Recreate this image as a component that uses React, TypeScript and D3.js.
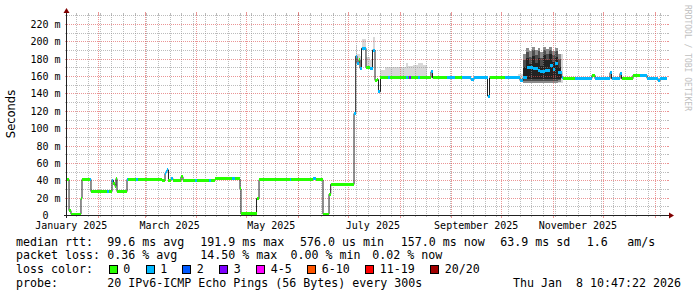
import React from "react";
import * as d3 from "d3";

// ---------- data ----------
const startTime = "2025-01-13T10:47";
const endTime = "2026-01-08T10:47";

const yTickValues = [0, 20, 40, 60, 80, 100, 120, 140, 160, 180, 200, 220];
const yTickLabels = ["0  ", "20 m", "40 m", "60 m", "80 m", "100 m", "120 m", "140 m", "160 m", "180 m", "200 m", "220 m"];

const monthLabels = ["January 2025", "March 2025", "May 2025", "July 2025", "September 2025", "November 2025"];
const monthLabelTimes = ["2025-01-16T00:00", "2025-03-16T00:00", "2025-05-16T00:00", "2025-07-16T00:00", "2025-09-16T00:00", "2025-11-16T00:00"];

const lossColors = ["#26ff00", "#00b8ff", "#0059ff", "#7e00ff", "#ff00ff", "#ff5500", "#ff0000", "#a10000"];
const lossLabels = ["0", "1", "2", "3", "4-5", "6-10", "11-19", "20/20"];

// median rtt (ms) as step points, with loss colour index
const medianTimes = [
  "2025-01-13T10:47", "2025-01-14T16:00", "2025-01-15T20:00", "2025-01-21T20:00", "2025-01-22T11:00",
  "2025-01-26T23:00", "2025-01-27T20:00", "2025-02-06T11:00", "2025-02-07T16:00", "2025-02-09T11:00",
  "2025-02-10T08:00", "2025-02-11T06:00", "2025-02-11T20:00", "2025-02-12T11:00", "2025-02-18T11:00",
  "2025-02-19T08:00", "2025-02-23T20:00", "2025-02-24T18:00", "2025-03-11T11:00", "2025-03-13T06:00",
  "2025-03-13T20:00", "2025-03-14T11:00", "2025-03-15T08:00", "2025-03-16T20:00", "2025-03-18T01:00",
  "2025-03-22T20:00", "2025-03-24T01:00", "2025-03-31T06:00", "2025-04-01T11:00", "2025-04-08T16:00",
  "2025-04-09T20:00", "2025-04-12T06:00", "2025-04-22T11:00", "2025-04-24T06:00", "2025-04-27T06:00",
  "2025-04-27T20:00", "2025-05-07T04:00", "2025-05-08T16:00", "2025-05-27T06:00", "2025-05-27T20:00",
  "2025-06-10T01:00", "2025-06-11T20:00", "2025-06-16T01:00", "2025-06-19T16:00", "2025-06-20T16:00",
  "2025-07-04T16:00", "2025-07-05T16:00", "2025-07-06T11:00", "2025-07-07T16:00", "2025-07-08T06:00",
  "2025-07-09T04:00", "2025-07-11T20:00", "2025-07-14T06:00", "2025-07-15T18:00", "2025-07-17T06:00",
  "2025-07-18T11:00", "2025-07-19T08:00", "2025-07-20T13:00", "2025-07-25T01:00", "2025-07-25T23:00",
  "2025-08-04T20:00", "2025-08-06T01:00", "2025-08-06T16:00", "2025-08-07T20:00", "2025-08-12T01:00",
  "2025-08-12T23:00", "2025-08-19T20:00", "2025-08-20T18:00", "2025-08-29T11:00", "2025-09-03T06:00",
  "2025-09-07T11:00", "2025-09-12T20:00", "2025-09-14T16:00", "2025-09-22T18:00", "2025-09-23T23:00",
  "2025-10-03T06:00", "2025-10-12T06:00", "2025-10-14T01:00", "2025-10-16T06:00", "2025-10-20T01:00",
  "2025-10-23T01:00", "2025-10-24T06:00", "2025-10-27T06:00", "2025-10-28T11:00", "2025-10-30T06:00",
  "2025-11-01T01:00", "2025-11-02T06:00", "2025-11-04T01:00", "2025-11-06T06:00", "2025-11-07T01:00",
  "2025-11-14T06:00", "2025-11-24T11:00", "2025-11-26T06:00", "2025-12-05T06:00", "2025-12-06T04:00",
  "2025-12-11T06:00", "2025-12-12T04:00", "2025-12-19T01:00", "2025-12-23T06:00", "2025-12-27T11:00",
  "2026-01-03T01:00", "2026-01-04T06:00",
];
const medianValues = [
  41, 5, 1, 19, 41,
  41, 27, 27, 27, 40,
  36, 33, 42, 27, 41,
  41, 41, 41, 39.5, 48,
  50, 52, 40, 42, 40,
  44, 40, 40, 40, 40,
  40, 41.5, 41.5, 41.5, 30,
  1.5, 19, 40.5, 40.5, 40.5,
  41.5, 40.5, 1, 24, 35.3,
  117, 183, 175, 179, 169,
  192, 170, 169, 190, 155,
  156, 142, 158, 158, 158,
  158, 158, 158, 158, 158,
  158, 165, 158, 158, 158,
  158, 156, 158, 137, 158,
  158, 155, 158, 170, 169,
  167, 165, 166, 167, 172,
  168, 174.7, 164, 158, 157.5,
  157.5, 161, 157, 164, 157,
  163, 157, 161, 161, 157.5,
  154.5, 157.5,
];
const medianLoss = [
  0, 0, 0, 0, 0,
  1, 0, 1, 0, 1,
  0, 0, 0, 0, 1,
  0, 1, 0, 0, 1,
  1, 1, 0, 1, 0,
  0, 0, 1, 0, 1,
  0, 0, 1, 0, 0,
  0, 0, 0, 1, 0,
  1, 0, 0, 0, 0,
  1, 1, 1, 0, 1,
  1, 0, 1, 1, 0,
  0, 1, 0, 1, 0,
  1, 0, 3, 0, 1,
  0, 1, 0, 1, 0,
  1, 1, 1, 1, 0,
  1, 1, 1, 1, 1,
  1, 1, 1, 1, 1,
  1, 1, 1, 1, 0,
  1, 0, 1, 1, 1,
  1, 0, 0, 1, 1,
  1, 1,
];

// light smoke (ping spread), ms; null = no smoke
const smokeTimes = [
  "2025-07-05T16:00", "2025-07-06T11:00", "2025-07-07T16:00", "2025-07-08T06:00", "2025-07-09T04:00",
  "2025-07-11T20:00", "2025-07-14T06:00", "2025-07-15T18:00", "2025-07-17T06:00", "2025-07-19T08:00",
  "2025-07-20T13:00", "2025-07-23T06:00", "2025-07-29T06:00", "2025-08-04T20:00", "2025-08-06T01:00",
  "2025-08-09T01:00", "2025-08-12T01:00", "2025-08-15T01:00", "2025-08-17T11:00", "2025-08-19T06:00",
  "2025-09-29T01:00", "2025-10-02T16:00", "2025-10-11T01:00", "2025-10-14T01:00", "2025-11-07T01:00",
  "2025-11-23T06:00",
];
const smokeLow = [
  183, 175, 179, 169, 192,
  168, 169, 190, 155, null,
  158, 158, 158, 158, 158,
  158, 158, 158, 158, null,
  157, null, 157, 152, 157,
  null,
];
const smokeHigh = [
  196, 186, 186, 183, 203,
  182, 178, 205, 168, null,
  167, 170, 171, 175, 172,
  173, 175, 173, 179, null,
  166, null, 163, 186, 164,
  null,
];

// dense smoke in late October: outer, mid and dark greys (ms)
const denseTimes = [
  "2025-10-14T01:00", "2025-10-15T19:00", "2025-10-17T13:00", "2025-10-19T07:00", "2025-10-21T01:00",
  "2025-10-22T19:00", "2025-10-24T13:00", "2025-10-26T07:00", "2025-10-28T01:00", "2025-10-29T19:00",
  "2025-10-31T13:00", "2025-11-02T07:00", "2025-11-04T01:00", "2025-11-05T19:00", "2025-11-07T01:00",
];
const outerLow = [152, 152, 152, 152, 152, 152, 152, 152, 152, 152, 152, 152, 153, 155, null];
const outerHigh = [186, 192, 189, 193, 190, 192, 188, 193, 191, 193, 189, 192, 186, 170, null];
const midLow = [154, 154, 154, 154, 154, 154, 154, 154, 154, 154, 154, 154, 155, 156, null];
const midHigh = [178, 188, 182, 190, 184, 189, 181, 190, 186, 190, 184, 189, 180, 165, null];
const darkLow = [157, 157, 157, 157, 157, 157, 157, 157, 157, 157, 157, 157, 157, 158, null];
const darkHigh = [170, 181, 174, 183, 175, 181, 172, 184, 178, 185, 176, 182, 170, 162, null];

const legendRows = [
  ["median rtt:", "99.6 ms avg", "191.9 ms max", "576.0 us min", "157.0 ms now", "63.9 ms sd", "1.6", "am/s"],
  ["packet loss:", "0.36 % avg", "14.50 % max", "0.00 % min", "0.02 % now"],
];
const lossTitle = "loss color:";
const probeLabel = "probe:";
const probeText = "20 IPv6-ICMP Echo Pings (56 Bytes) every 300s";
const stampText = "Thu Jan  8 10:47:22 2026";
const yTitle = "Seconds";
const watermark = "RRDTOOL / TOBI OETIKER";

// ---------- layout ----------
const W = 697, H = 297;
const PX0 = 67, PX1 = 667, PY0 = 215, PY1 = 15;
const legendX = [
  [16, 107.3, 200.3, 300, 400.7, 500.3, 586.7, 627.3],
  [16, 107.3, 200.3, 290.5, 372.3],
];
const legendY = [245.5, 259.4, 273.3, 287.2];
const boxX = [109, 146, 182.5, 219.5, 256.5, 307.5, 365.5, 430.5];
const MONO = "'DejaVu Sans Mono', monospace";

const parse = d3.timeParse("%Y-%m-%dT%H:%M");

export default function App() {
  const t0 = parse(startTime)!;
  const t1 = parse(endTime)!;
  const x = d3.scaleTime().domain([t0, t1]).range([PX0, PX1]);
  const y = d3.scaleLinear().domain([0, 230.4]).range([PY0, PY1]);

  const minorV = d3.timeSunday.range(t0, t1);
  const majorV = d3.timeMonth.range(d3.timeMonth.ceil(t0), t1);
  const minorH = d3.range(10, 231, 10).filter((v) => v % 20 !== 0);
  const majorH = d3.range(20, 221, 20);

  const pts = medianTimes.map((s, i) => ({ t: parse(s)!, v: medianValues[i], c: medianLoss[i] }));
  const stepPts = [...pts, { t: t1, v: pts[pts.length - 1].v, c: 0 }];
  const line = d3
    .line<{ t: Date; v: number }>()
    .x((d) => x(d.t))
    .y((d) => y(d.v))
    .curve(d3.curveStepAfter);

  const mkArea = (times: string[], lo: (number | null)[], hi: (number | null)[]) => {
    const data = times.map((s, i) => ({ t: parse(s)!, lo: lo[i], hi: hi[i] }));
    const area = d3
      .area<{ t: Date; lo: number | null; hi: number | null }>()
      .defined((d) => d.lo !== null)
      .x((d) => x(d.t))
      .y0((d) => y(d.lo as number))
      .y1((d) => y(d.hi as number))
      .curve(d3.curveStepAfter);
    return area(data) || "";
  };

  const rx = (v: number) => Math.round(v) + 0.5;
  const gridMinor = "rgba(143,143,143,0.6)";
  const gridMajor = "rgba(222,79,79,0.6)";

  return (
    <svg
      width={W}
      height={H}
      style={{ position: "fixed", left: 0, top: 0, display: "block" }}
      xmlns="http://www.w3.org/2000/svg"
    >
      <rect x={0} y={0} width={W} height={H} fill="#ffffff" />

      {/* smoke */}
      <path d={mkArea(smokeTimes, smokeLow, smokeHigh)} fill="#d8d8d8" shapeRendering="crispEdges" />
      <path d={mkArea(denseTimes, outerLow, outerHigh)} fill="#8c8c8c" shapeRendering="crispEdges" />
      <path d={mkArea(denseTimes, midLow, midHigh)} fill="#4e4e4e" shapeRendering="crispEdges" />
      <path d={mkArea(denseTimes, darkLow, darkHigh)} fill="#222222" shapeRendering="crispEdges" />

      {/* grid */}
      <g shapeRendering="crispEdges" strokeWidth={1}>
        {minorH.map((v) => (
          <g key={"mh" + v}>
            <line x1={PX0} x2={PX1} y1={rx(y(v))} y2={rx(y(v))} stroke={gridMinor} strokeDasharray="1,1" />
            <line x1={PX0 - 2} x2={PX0} y1={rx(y(v))} y2={rx(y(v))} stroke={gridMinor} />
            <line x1={PX1} x2={PX1 + 2} y1={rx(y(v))} y2={rx(y(v))} stroke={gridMinor} />
          </g>
        ))}
        {minorV.map((d, i) => (
          <g key={"mv" + i}>
            <line x1={rx(x(d))} x2={rx(x(d))} y1={PY1} y2={PY0} stroke={gridMinor} strokeDasharray="1,1" />
            <line x1={rx(x(d))} x2={rx(x(d))} y1={PY0} y2={PY0 + 2} stroke={gridMinor} />
            <line x1={rx(x(d))} x2={rx(x(d))} y1={PY1 - 2} y2={PY1} stroke={gridMinor} />
          </g>
        ))}
        {majorH.map((v) => (
          <g key={"Mh" + v}>
            <line x1={PX0} x2={PX1} y1={rx(y(v))} y2={rx(y(v))} stroke={gridMajor} strokeDasharray="1,1" />
            <line x1={PX0 - 2} x2={PX0} y1={rx(y(v))} y2={rx(y(v))} stroke={gridMajor} />
            <line x1={PX1} x2={PX1 + 2} y1={rx(y(v))} y2={rx(y(v))} stroke={gridMajor} />
          </g>
        ))}
        {majorV.map((d, i) => (
          <g key={"Mv" + i}>
            <line x1={rx(x(d))} x2={rx(x(d))} y1={PY1} y2={PY0} stroke={gridMajor} strokeDasharray="1,1" />
            <line x1={rx(x(d))} x2={rx(x(d))} y1={PY0} y2={PY0 + 3} stroke={gridMajor} />
            <line x1={rx(x(d))} x2={rx(x(d))} y1={PY1 - 3} y2={PY1} stroke={gridMajor} />
          </g>
        ))}
      </g>

      {/* median: black step line + loss coloured bands */}
      <path d={line(stepPts) || ""} fill="none" stroke="#202020" strokeWidth={1} />
      <g shapeRendering="crispEdges">
        {pts.map((p, i) => {
          const xa = x(p.t);
          const xb = x(stepPts[i + 1].t);
          const yc = y(p.v);
          return (
            <rect
              key={"m" + i}
              x={xa}
              width={Math.max(1, xb - xa)}
              y={yc - 1.5}
              height={3}
              fill={lossColors[p.c]}
            />
          );
        })}
      </g>

      {/* axes */}
      <g shapeRendering="crispEdges">
        <line x1={PX0 - 3} x2={PX1 + 3} y1={PY0 + 0.5} y2={PY0 + 0.5} stroke="#212121" />
        <line x1={PX0 - 0.5} x2={PX0 - 0.5} y1={PY0 + 3} y2={PY1 - 3} stroke="#212121" />
      </g>
      <path d={`M${PX1 + 2},${PY0 - 2.5} L${PX1 + 7},${PY0 + 0.5} L${PX1 + 2},${PY0 + 3.5} Z`} fill="#800000" />
      <path d={`M${PX0 - 3.5},${PY1 - 2} L${PX0 - 0.5},${PY1 - 7} L${PX0 + 2.5},${PY1 - 2} Z`} fill="#800000" />

      {/* y labels */}
      <g fontFamily={MONO} fontSize={10} fill="#000" textAnchor="end" style={{ whiteSpace: "pre" }}>
        {yTickValues.map((v, i) => (
          <text key={"yl" + v} x={60.5} y={y(v) + 4} xmlSpace="preserve">
            {yTickLabels[i]}
          </text>
        ))}
      </g>
      {/* x labels */}
      <g fontFamily={MONO} fontSize={10} fill="#000" textAnchor="middle">
        {monthLabels.map((m, i) => (
          <text key={m} x={x(parse(monthLabelTimes[i])!)} y={228.5}>
            {m}
          </text>
        ))}
      </g>

      {/* y title */}
      <text
        transform="translate(14.5,114) rotate(-90)"
        fontFamily="'DejaVu Sans', sans-serif"
        fontSize={11.5}
        textAnchor="middle"
        fill="#000"
      >
        {yTitle}
      </text>

      {/* watermark */}
      <text
        transform="translate(685,5) rotate(90)"
        fontFamily={MONO}
        fontSize={8}
        fill="#c0c0c0"
      >
        {watermark}
      </text>

      {/* legend */}
      <g fontFamily={MONO} fontSize={11.63} fill="#000" style={{ whiteSpace: "pre" }}>
        {legendRows.map((row, r) =>
          row.map((s, i) => (
            <text key={`lg${r}-${i}`} x={legendX[r][i]} y={legendY[r]} xmlSpace="preserve">
              {s}
            </text>
          ))
        )}
        <text x={16} y={legendY[2]}>{lossTitle}</text>
        {lossLabels.map((l, i) => (
          <g key={"lc" + i}>
            <rect x={boxX[i]} y={265} width={8} height={8} fill={lossColors[i]} stroke="#000" strokeWidth={1} shapeRendering="crispEdges" />
            <text x={boxX[i] + 14.3} y={legendY[2]}>{l}</text>
          </g>
        ))}
        <text x={16} y={legendY[3]}>{probeLabel}</text>
        <text x={107.3} y={legendY[3]}>{probeText}</text>
        <text x={681} y={legendY[3]} textAnchor="end" xmlSpace="preserve">{stampText}</text>
      </g>
    </svg>
  );
}
